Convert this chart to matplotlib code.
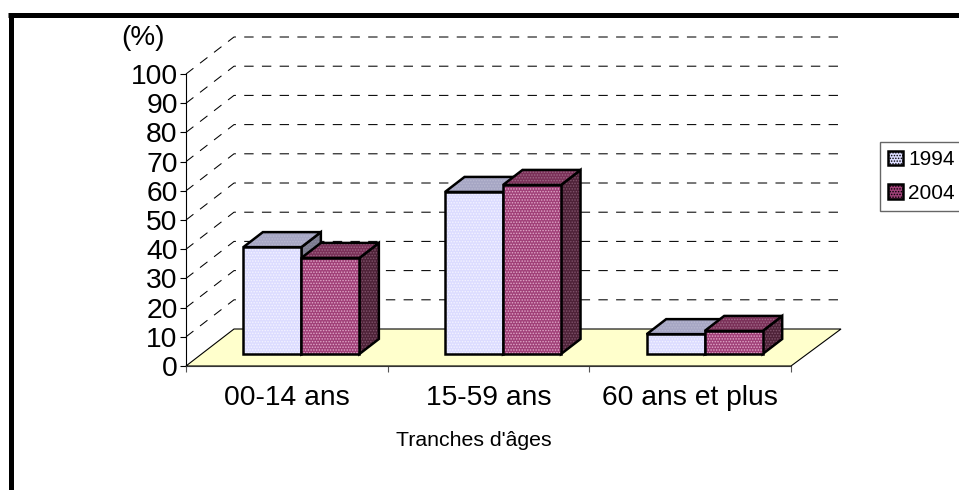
import matplotlib
matplotlib.use('Agg')
import matplotlib.pyplot as plt
from matplotlib.patches import Polygon, Patch
from matplotlib.lines import Line2D

plt.rcParams['font.family'] = ['Liberation Sans', 'DejaVu Sans']
plt.rcParams['hatch.linewidth'] = 0.7

categories = ['00-14 ans', '15-59 ans', '60 ans et plus']
years = ['1994', '2004']
values_1994 = [36.6, 55.5, 6.8]
values_2004 = [32.9, 57.9, 7.9]
y_ticks = list(range(0, 101, 10))

W, H = 959, 490
fig = plt.figure(figsize=(W / 100, H / 100), dpi=100)
ax = fig.add_axes([186 / W, 1 - 366 / H, 605 / W, 292 / H])
ax.set_xlim(0, 3)
ax.set_ylim(0, 100)

# depth of the 3d box, in data units
DX = 0.238
DY = 12.67
BAR_W = 0.2876
D0 = 0.324   # front of the bars
D1 = 0.73    # back of the bars
XBACK = 3.01  # back wall is a little wider than the front


def pt(x, y, d):
    return (x + DX * d, y + DY * d)


def poly(pts, fc, hatch_col=None, hatch='', z=3, lw=1.8, ec='#000000'):
    ax.add_patch(Polygon(pts, closed=True, facecolor=fc, edgecolor='none',
                         zorder=z, clip_on=False))
    if hatch:
        ax.add_patch(Polygon(pts, closed=True, facecolor='none', edgecolor=hatch_col,
                             hatch=hatch, linewidth=0, zorder=z, clip_on=False))
    ax.add_patch(Polygon(pts, closed=True, facecolor='none', edgecolor=ec,
                         linewidth=lw, zorder=z, clip_on=False, joinstyle='miter'))


def bar3d(x0, val, cols, z):
    x1 = x0 + BAR_W
    front = [pt(x0, 0, D0), pt(x1, 0, D0), pt(x1, val, D0), pt(x0, val, D0)]
    top = [pt(x0, val, D0), pt(x1, val, D0), pt(x1, val, D1), pt(x0, val, D1)]
    side = [pt(x1, 0, D0), pt(x1, 0, D1), pt(x1, val, D1), pt(x1, val, D0)]
    poly(side, cols['side'], cols['side_h'], '......', z)
    poly(top, cols['top'], cols['top_h'], '......', z)
    poly(front, cols['front'], cols['front_h'], '......', z)


style_1994 = dict(front='#DCDCFF', front_h='#F4F4FF', top='#A6A6C4', top_h='#B8B8D0',
                  side='#7A7A8E', side_h='#8A8A9E')
style_2004 = dict(front='#A04078', front_h='#E0A8C8', top='#7A3058', top_h='#A06A88',
                  side='#4E2238', side_h='#80546C')

# floor
floor = [pt(0, 0, 0), pt(3, 0, 0), pt(XBACK, 0, 1), pt(0, 0, 1)]
ax.add_patch(Polygon(floor, closed=True, facecolor='#FFFFCC', edgecolor='#000000',
                     linewidth=0.8, zorder=1, clip_on=False))

# back and side wall grid
for t in y_ticks[1:]:
    a, b, c = pt(0, t, 0), pt(0, t, 1), pt(XBACK, t, 1)
    ax.plot([a[0], b[0], c[0]], [a[1], b[1], c[1]], color='#000000', lw=0.75,
            dashes=(9, 8), zorder=1, clip_on=False)

for i in range(len(categories)):
    x0 = i + 0.495 - BAR_W
    bar3d(x0, values_1994[i], style_1994, 3 + i * 2)
    bar3d(x0 + BAR_W, values_2004[i], style_2004, 4 + i * 2)

ax.spines['top'].set_visible(False)
ax.spines['right'].set_visible(False)
ax.spines['left'].set_linewidth(0.8)
ax.spines['bottom'].set_linewidth(0.8)
ax.spines['bottom'].set_color('#333333')
ax.set_yticks(y_ticks)
ax.set_xticks([0, 1, 2, 3])
ax.set_xticklabels([])
ax.set_xticks([0.5, 1.5, 2.5], minor=True)
ax.set_xticklabels(categories, minor=True)
ax.tick_params(axis='x', which='minor', length=0, labelsize=20.3, pad=14)
ax.tick_params(axis='x', which='major', length=4, width=0.8, color='#555555')
ax.tick_params(axis='y', length=4, width=0.8, labelsize=20.3, pad=2)
ax.patch.set_visible(False)

fig.text(143 / W, 1 - 38 / H, '(%)', fontsize=20, ha='center', va='center')
fig.text(474 / W, 1 - 440 / H, "Tranches d'âges", fontsize=15.3, ha='center', va='center')

handles = [Patch(facecolor=style_1994['front'], edgecolor='#000000', linewidth=1.8,
                 hatch='......', label=years[0]),
           Patch(facecolor=style_2004['front'], edgecolor='#000000', linewidth=1.8,
                 hatch='......', label=years[1])]
leg = fig.legend(handles=handles, loc='upper left', bbox_to_anchor=(880 / W, 1 - 142 / H),
                 fontsize=15, frameon=True, fancybox=False, edgecolor='#666666',
                 framealpha=1, handlelength=0.7, handleheight=0.7, handletextpad=0.25,
                 labelspacing=0.7, borderaxespad=0, borderpad=0.4)
leg.get_frame().set_linewidth(1.0)

# outer frame, only top and left are inside the picture
fig.add_artist(Line2D([10.5 / W, 10.5 / W], [0, 1 - 15 / H], color='#000000', lw=3.6,
                      solid_capstyle='butt'))
fig.add_artist(Line2D([8 / W, 1], [1 - 15 / H, 1 - 15 / H], color='#000000', lw=3.6,
                      solid_capstyle='butt'))

fig.savefig('out.png', dpi=100)
